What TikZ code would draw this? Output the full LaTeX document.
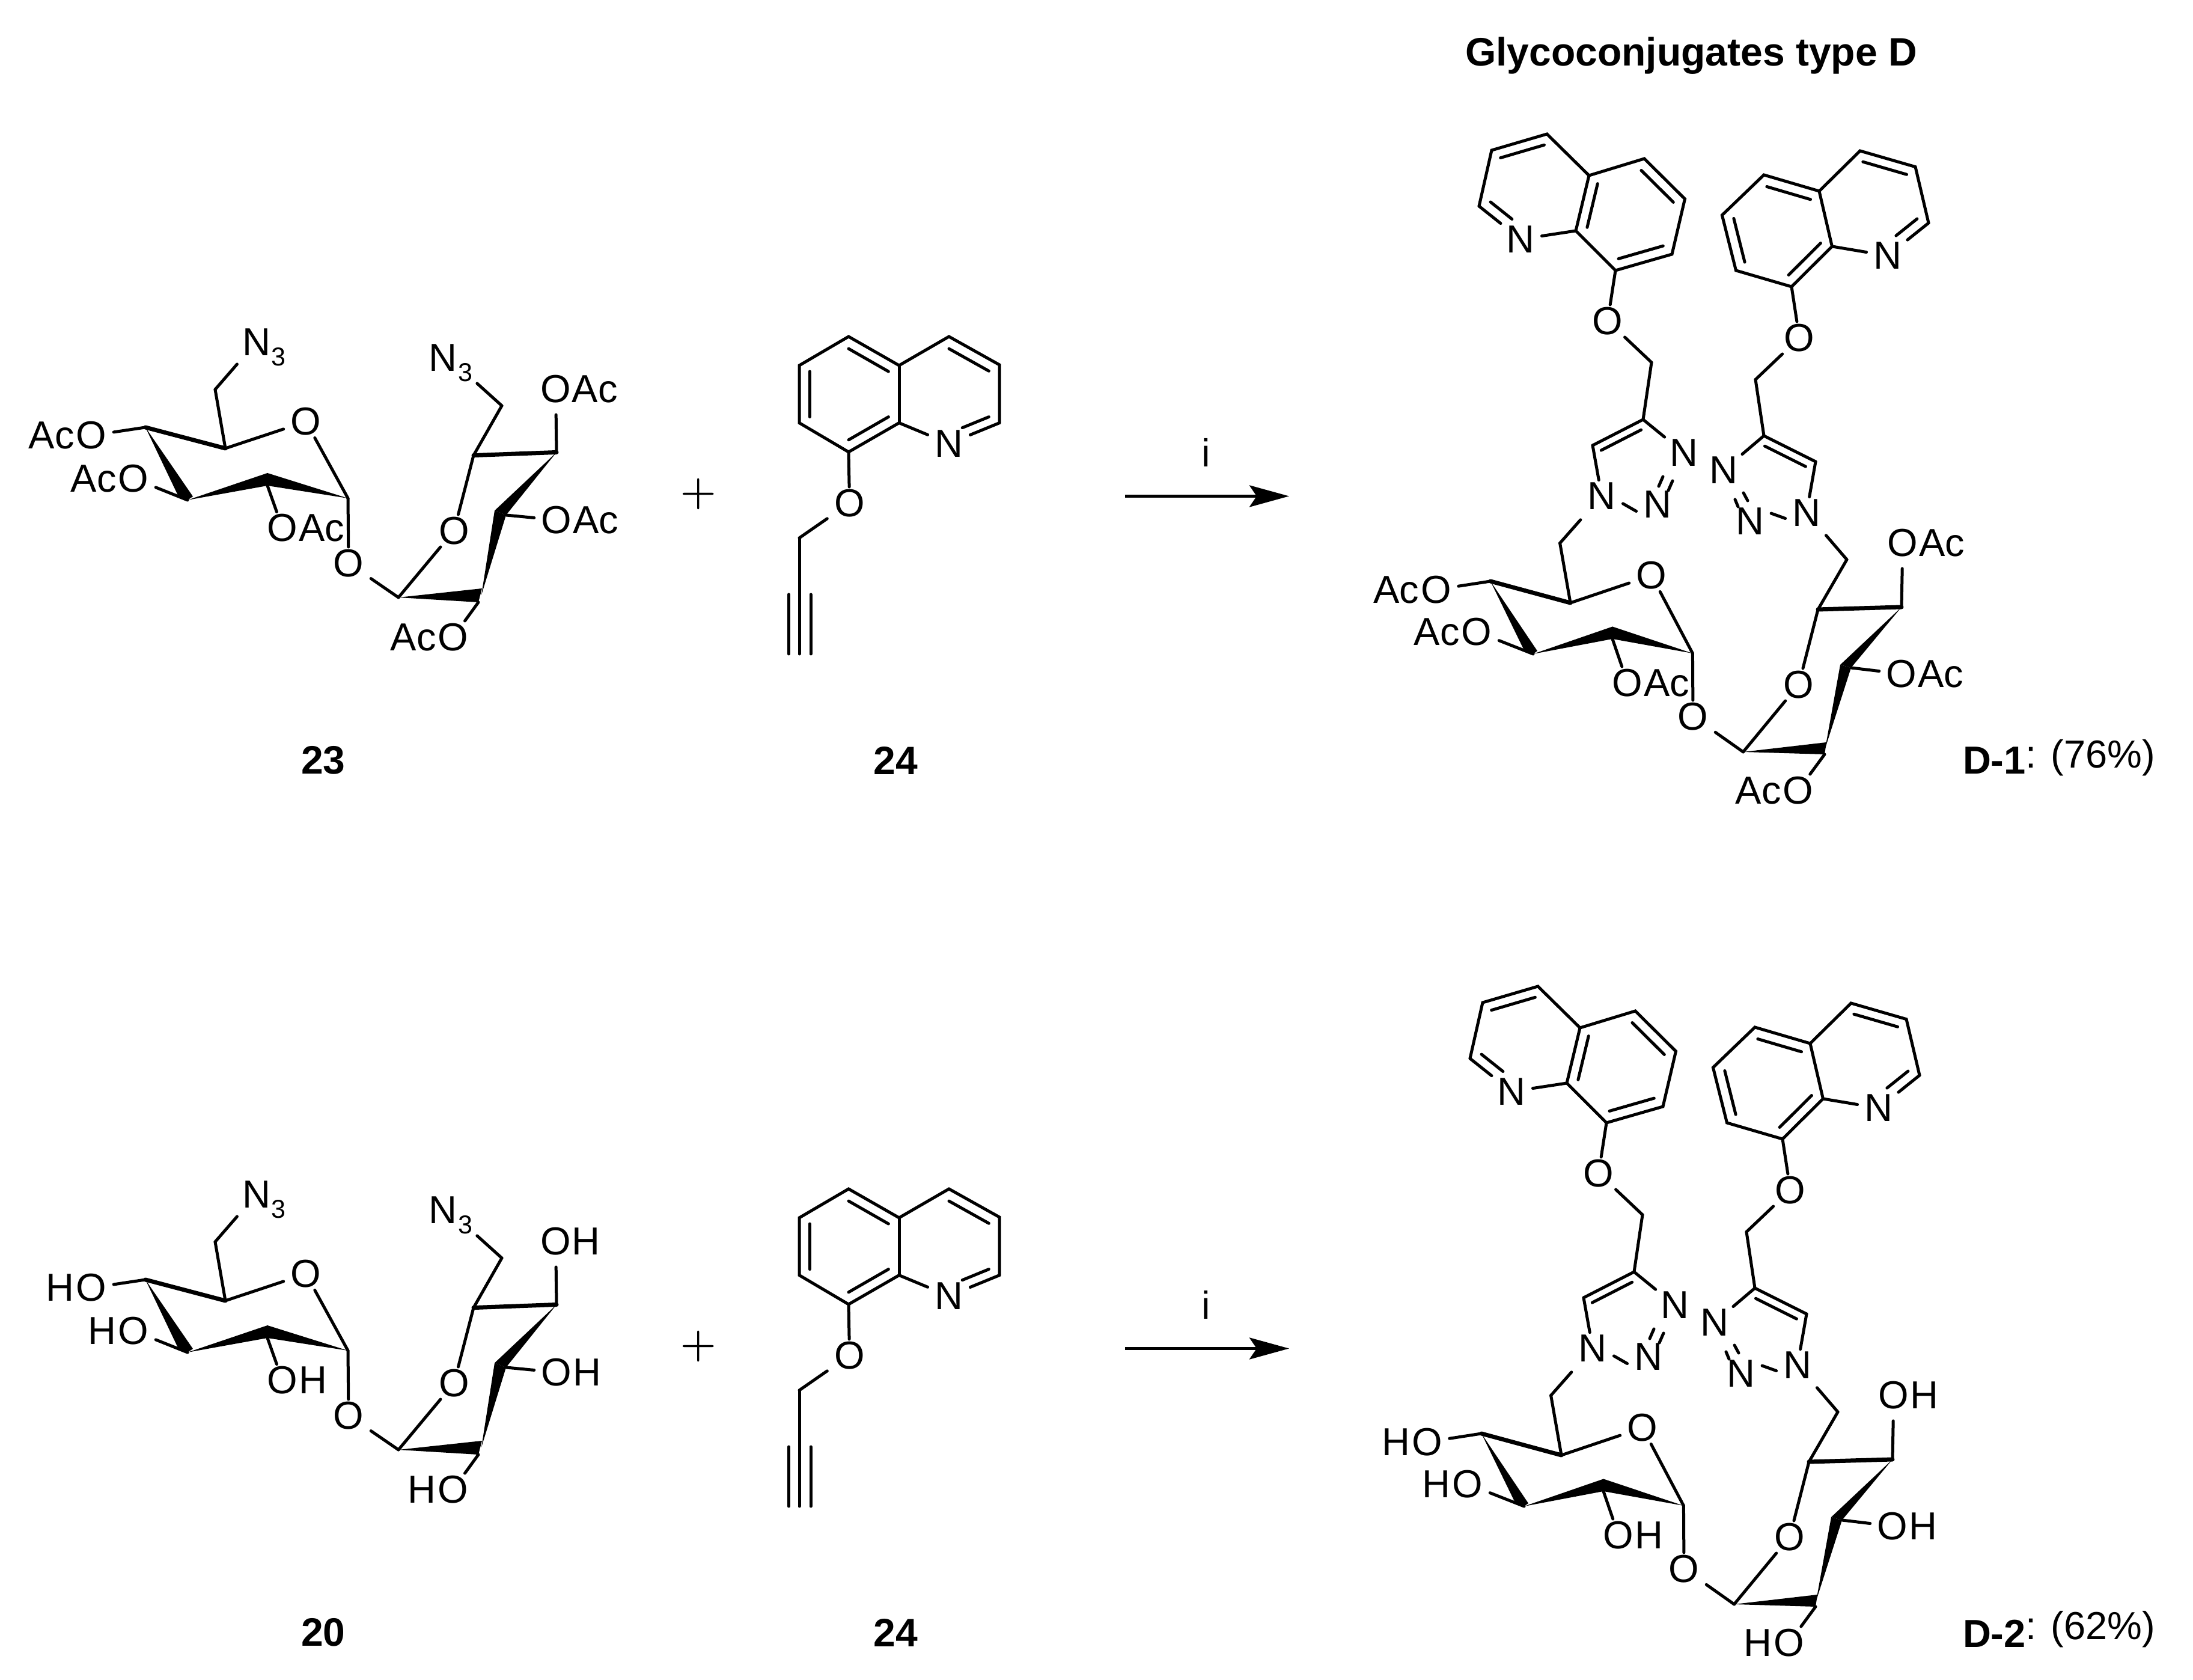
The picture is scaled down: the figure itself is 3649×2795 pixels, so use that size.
\documentclass[tikz,border=0pt]{standalone}
\usepackage{fontspec}
\setmainfont{Liberation Sans}
\usetikzlibrary{calc}
\usetikzlibrary{positioning}
\usetikzlibrary{arrows.meta}

\tikzset{
 bond/.style={line width=.5pt,line cap=round},
 backbond/.style={line width=.7pt,line cap=round},
 atom/.style={font=\fontsize{6.5}{7.8}\selectfont,inner xsep=1pt,inner ysep=.2pt},
 natom/.style={atom},
 tag/.style={atom,inner sep=0pt},
 digit/.style={font=\fontsize{4.3}{5}\selectfont,inner sep=0pt},
 cpd/.style={font=\fontsize{6.6}{7.8}\selectfont\bfseries,inner sep=0pt},
 rxn/.style={line width=.5pt,-{Stealth[length=6.6pt,width=3.6pt,inset=1.2pt]}}
}

\newcommand{\innerbond}[4][]{\draw[bond,#1] ($(#2)!.21!(#4)$) -- ($(#3)!.21!(#4)$);}

\newcommand{\sugarbonds}[1]{
 \node[atom] (ro) at (roc) {O};
 \node[atom] (ao) at (aoc) {O};
 \node[atom] (rop) at (ropc) {O};
 \node[atom] (o4) at (o4c) {O};
 \node[atom] (o3) at (o3c) {O};
 \node[atom] (o2) at (o2c) {O};
 \node[atom] (o2p) at (o2pc) {O};
 \node[atom] (o3p) at (o3pc) {O};
 \node[atom] (o4p) at (o4pc) {O};
 \node[tag,base left=-1.1pt of o4] (s4) {#1};
 \node[tag,base left=-1.1pt of o3] (s3) {#1};
 \node[tag,base left=-1.1pt of o2p] (s2p) {#1};
 \node[tag,base right=-1.2pt of o2] (s2) {#1};
 \node[tag,base right=-1.2pt of o3p] (s3p) {#1};
 \node[tag,base right=-1.2pt of o4p] (s4p) {#1};
 \draw[bond] (ch) -- (c5);
 \draw[bond] (c5) -- (ro);
 \draw[bond] (ro) -- (c1);
 \draw[backbond] (c4) -- (c5);
 \draw[bond] (c4) -- (o4);
 \draw[bond] (c3) -- (o3);
 \draw[bond] (c2b) -- (o2);
 \draw[bond] (c1) -- (ao);
 \draw[bond] (ao) -- (c1p);
 \draw[bond] (c1p) -- (rop);
 \draw[bond] (rop) -- (c5p);
 \draw[bond] (c5p) -- (chp);
 \draw[backbond] (c5p) -- (c4p);
 \draw[bond,shorten >=1.6pt] (c4p) -- (o4p);
 \draw[bond] (c3pb) -- (o3p);
 \draw[bond] (c2pb) -- (o2p);
 \fill (c4) -- (c3a) -- (c3) -- (c3b) -- cycle;
 \fill (c3) -- (c2a) -- (c2b) -- cycle;
 \fill (c1) -- (c2a) -- (c2b) -- cycle;
 \fill (c1p) -- (c2pa) -- (c2pb) -- cycle;
 \fill (c2pn) -- (c3pa) -- (c3pb) -- cycle;
 \fill (c4p) -- (c3pa) -- (c3pb) -- cycle;
}

\newcommand{\disaccharide}[1]{
 \coordinate (ch) at (358,648);
 \coordinate (c5) at (375,746);
 \coordinate (c4) at (242,711);
 \coordinate (c3) at (312,832);
 \coordinate (c3a) at (321,826);
 \coordinate (c3b) at (296,824);
 \coordinate (c2a) at (445,787);
 \coordinate (c2b) at (445,808);
 \coordinate (c1) at (579,829);
 \coordinate (c1p) at (663,994);
 \coordinate (c2pa) at (802,979);
 \coordinate (c2pb) at (796,1002);
 \coordinate (c2pn) at (801,990);
 \coordinate (c3pa) at (823,849.5);
 \coordinate (c3pb) at (842,857);
 \coordinate (c4p) at (926,752.5);
 \coordinate (c5p) at (788,757.6);
 \coordinate (chp) at (835,675);
 \coordinate (roc) at (509,701.5);
 \coordinate (aoc) at (580,937);
 \coordinate (ropc) at (755.5,883);
 \coordinate (o4c) at (152,724.5);
 \coordinate (o3c) at (222,796);
 \coordinate (o2c) at (470,878.6);
 \coordinate (o2pc) at (754,1060);
 \coordinate (o3pc) at (926,865);
 \coordinate (o4pc) at (924.6,647);
 \sugarbonds{#1}
 \node[natom] (az) at (426.5,569) {N};
 \node[digit] (azd) at (463,594) {3};
 \node[natom] (azp) at (737,595) {N};
 \node[digit] (azpd) at (774,620) {3};
 \draw[bond,shorten >=1.4pt] (ch) -- (az);
 \draw[bond,shorten >=.8pt] (chp) -- (azpd);
}

\newcommand{\alkyne}{
 \coordinate (a) at (1412,560);
 \coordinate (b) at (1496,608);
 \coordinate (c) at (1579,560);
 \coordinate (d) at (1663,607);
 \coordinate (e) at (1663,703.6);
 \coordinate (f) at (1496,703.6);
 \coordinate (g) at (1412,752);
 \coordinate (h) at (1330,703.6);
 \coordinate (i) at (1330,608);
 \coordinate (bz) at (1412,656);
 \coordinate (py) at (1579,656);
 \coordinate (cho) at (1330,895);
 \coordinate (tr) at (1330,989);
 \coordinate (tra) at (1312.5,989);
 \coordinate (trb) at (1349,989);
 \coordinate (te) at (1330,1088);
 \coordinate (tea) at (1312.5,1088);
 \coordinate (teb) at (1349,1088);
 \node[natom] (n) at (1579,738) {N};
 \node[atom] (o) at (1413.6,837) {O};
 \draw[bond] (f) -- (g) -- (h) -- (i) -- (a) -- (b) -- (c) -- (d) -- (e);
 \draw[bond] (b) -- (f);
 \draw[bond] (f) -- (n);
 \draw[bond] (e) -- (n);
 \innerbond{a}{b}{bz}
 \innerbond{h}{i}{bz}
 \innerbond{f}{g}{bz}
 \innerbond{c}{d}{py}
 \innerbond[shorten >=2.4pt]{e}{n}{py}
 \draw[bond] (g) -- (o);
 \draw[bond] (o) -- (cho);
 \draw[bond] (cho) -- (tr);
 \draw[bond] (tr) -- (te);
 \draw[bond] (tra) -- (tea);
 \draw[bond] (trb) -- (teb);
 \node[atom,font=\fontsize{6.6}{8}\selectfont] (plus) at (1162,822) {$+$};
 \coordinate (arrs) at (1872,825.5);
 \coordinate (arre) at (2145,825.5);
 \draw[rxn] (arrs) -- (arre);
 \node[atom] (reag) at (2007,753) {i};
}

\newcommand{\conjugate}[1]{
 \coordinate (la) at (2574,223);
 \coordinate (lb) at (2482,250);
 \coordinate (lc) at (2461,343);
 \coordinate (ld) at (2622,384);
 \coordinate (le) at (2644,292);
 \coordinate (lf) at (2736,264);
 \coordinate (lg) at (2803.5,331);
 \coordinate (lh) at (2782,423);
 \coordinate (li) at (2688,450);
 \coordinate (lpy) at (2552,310);
 \coordinate (lbz) at (2712,357);
 \coordinate (lch) at (2748,603);
 \coordinate (lt4) at (2734,698);
 \coordinate (lt5) at (2650,741);
 \coordinate (ltz) at (2718,780);
 \coordinate (lsa) at (2767,793);
 \coordinate (lsb) at (2760,809);
 \coordinate (lsc) at (2783,800);
 \coordinate (lsd) at (2776,816);
 \node[natom] (ln) at (2530,398) {N};
 \node[atom] (lo) at (2675,534) {O};
 \node[natom] (ln1) at (2665,825) {N};
 \node[natom] (ln2) at (2758,839) {N};
 \node[natom] (ln3) at (2802,753.5) {N};
 \draw[bond] (lc) -- (lb) -- (la) -- (le) -- (lf) -- (lg) -- (lh) -- (li) -- (ld) -- (le);
 \draw[bond] (lc) -- (ln);
 \draw[bond] (ld) -- (ln);
 \innerbond{la}{lb}{lpy}
 \innerbond[shorten >=2.4pt]{lc}{ln}{lpy}
 \innerbond{ld}{le}{lbz}
 \innerbond{lf}{lg}{lbz}
 \innerbond{lh}{li}{lbz}
 \draw[bond] (li) -- (lo);
 \draw[bond] (lo) -- (lch);
 \draw[bond] (lch) -- (lt4) -- (lt5);
 \draw[bond] (lt4) -- (ln3);
 \draw[bond] (lt5) -- (ln1);
 \draw[bond] (ln1.-20) -- (ln2.198);
 \draw[bond] (lsa) -- (lsb);
 \draw[bond] (lsc) -- (lsd);
 \innerbond{lt4}{lt5}{ltz}
 \coordinate (ra) at (3095,251);
 \coordinate (rb) at (3187,277.6);
 \coordinate (rc) at (3209,371);
 \coordinate (rd) at (3048.4,410);
 \coordinate (re) at (3027,318);
 \coordinate (rf) at (2935,291);
 \coordinate (rg) at (2865.4,358);
 \coordinate (rh) at (2888.5,450);
 \coordinate (ri) at (2981,477);
 \coordinate (rpy) at (3118,338);
 \coordinate (rbz) at (2958,384);
 \coordinate (rch) at (2921,631.5);
 \coordinate (rt4) at (2935,725);
 \coordinate (rt5) at (3021,768);
 \coordinate (rtz) at (2942,807);
 \coordinate (rsa) at (2901,820);
 \coordinate (rsb) at (2908,833);
 \coordinate (rsc) at (2887,831);
 \coordinate (rsd) at (2892,843);
 \node[natom] (rn) at (3141,425.5) {N};
 \node[atom] (ro2) at (2994,562) {O};
 \node[natom] (rn1) at (3006,853) {N};
 \node[natom] (rn2) at (2911.6,867) {N};
 \node[natom] (rn3) at (2868,782) {N};
 \draw[bond] (rc) -- (rb) -- (ra) -- (re) -- (rf) -- (rg) -- (rh) -- (ri) -- (rd) -- (re);
 \draw[bond] (rc) -- (rn);
 \draw[bond] (rd) -- (rn);
 \innerbond{ra}{rb}{rpy}
 \innerbond[shorten >=2.4pt]{rc}{rn}{rpy}
 \innerbond{rf}{re}{rbz}
 \innerbond{rg}{rh}{rbz}
 \innerbond{ri}{rd}{rbz}
 \draw[bond] (ri) -- (ro2);
 \draw[bond] (ro2) -- (rch);
 \draw[bond] (rch) -- (rt4) -- (rt5);
 \draw[bond] (rt4) -- (rn3);
 \draw[bond] (rt5) -- (rn1);
 \draw[bond] (rn1.195) -- (rn2.20);
 \draw[bond] (rsa) -- (rsb);
 \draw[bond] (rsc) -- (rsd);
 \innerbond{rt4}{rt5}{rtz}
 \coordinate (ch) at (2595.6,903.6);
 \coordinate (c5) at (2613,1003);
 \coordinate (c4) at (2480,967);
 \coordinate (c3) at (2551,1088);
 \coordinate (c3a) at (2558,1083);
 \coordinate (c3b) at (2534.6,1079);
 \coordinate (c2a) at (2683,1042.5);
 \coordinate (c2b) at (2683,1063);
 \coordinate (c1) at (2816.4,1087);
 \coordinate (c1p) at (2900.5,1251);
 \coordinate (c2pa) at (3039,1235);
 \coordinate (c2pb) at (3036,1255);
 \coordinate (c2pn) at (3037,1245);
 \coordinate (c3pa) at (3062,1106);
 \coordinate (c3pb) at (3080,1111);
 \coordinate (c4p) at (3164,1010);
 \coordinate (c5p) at (3025,1014);
 \coordinate (chp) at (3073,931);
 \coordinate (roc) at (2748,957.5);
 \coordinate (aoc) at (2817,1192);
 \coordinate (ropc) at (2993,1139);
 \coordinate (o4c) at (2389.5,981);
 \coordinate (o3c) at (2457,1051);
 \coordinate (o2c) at (2708,1136);
 \coordinate (o2pc) at (2992,1315);
 \coordinate (o3pc) at (3164,1121);
 \coordinate (o4pc) at (3166,903);
 \sugarbonds{#1}
 \draw[bond,shorten >=1.8pt] (ch) -- (ln1);
 \draw[bond,shorten >=1.5pt] (chp) -- (rn1);
}

\begin{document}
\begin{tikzpicture}[x=.1pt,y=-.1pt]
 \useasboundingbox (0,0) rectangle (3649,2795);
 \node[cpd,anchor=base] (title) at (2814,110) {Glycoconjugates type D};
 \begin{scope}[name prefix=p-]
  \disaccharide{Ac}
  \alkyne
  \conjugate{Ac}
 \end{scope}
 \begin{scope}[name prefix=q-,shift={(0,1418)}]
  \disaccharide{H}
  \alkyne
 \end{scope}
 \begin{scope}[name prefix=r-,shift={(-15,1418)}]
  \conjugate{H}
 \end{scope}
 \node[cpd] (lab23) at (538,1265) {23};
 \node[cpd] (lab24) at (1490,1265) {24};
 \node[cpd] (lab20) at (538,2716) {20};
 \node[cpd] (lab24b) at (1490,2716) {24};
 \node[atom,anchor=base west,inner sep=0pt] (yield1) at (3264,1288) {\textbf{D-1}\raisebox{1pt}{: (76\%)}};
 \node[atom,anchor=base west,inner sep=0pt] (yield2) at (3264,2740) {\textbf{D-2}\raisebox{1.2pt}{: (62\%)}};
\end{tikzpicture}
\end{document}
